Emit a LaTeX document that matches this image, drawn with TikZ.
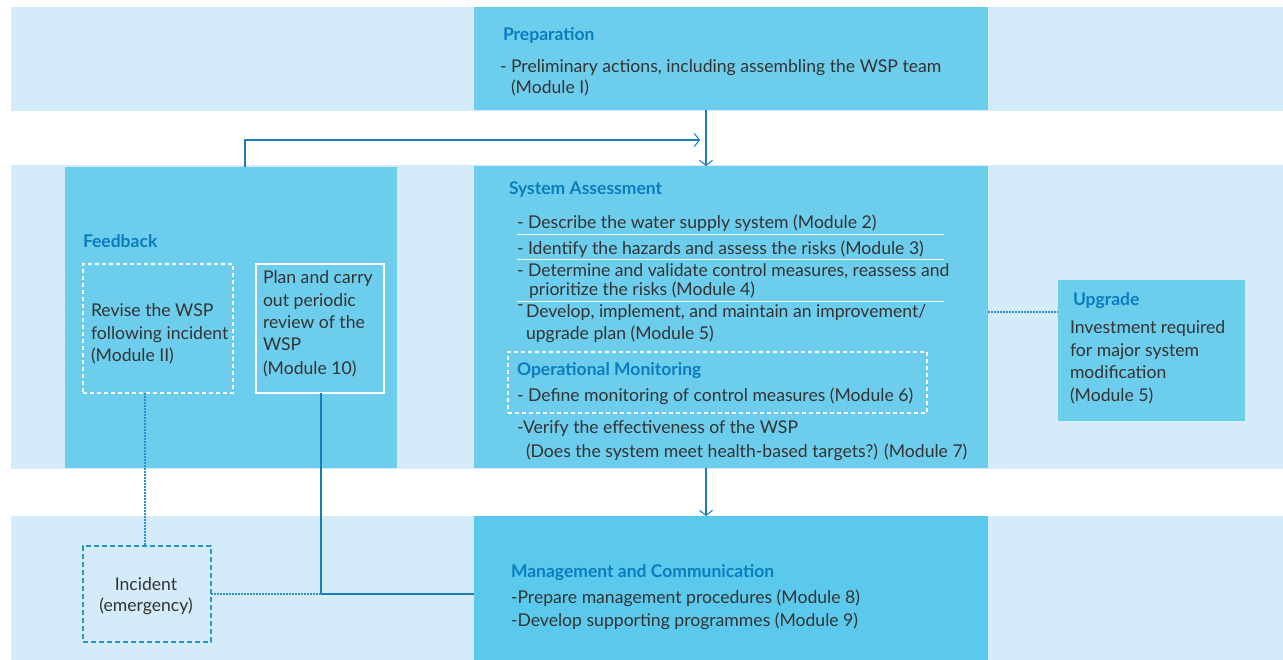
\documentclass[tikz,border=0pt]{standalone}
\usepackage{fontspec}
\setmainfont{Lato}
\usetikzlibrary{arrows.meta}
\definecolor{bandc}{HTML}{D4ECF9}
\definecolor{boxc}{HTML}{6DCDEC}
\definecolor{mgmtc}{HTML}{5BC9EC}
\definecolor{linec}{HTML}{1B7DB5}
\definecolor{dotc}{HTML}{2A93CC}
\definecolor{titlec}{HTML}{0A7DBF}
\definecolor{textc}{HTML}{333333}
\tikzset{
  area/.style={anchor=north west, inner sep=0, outer sep=0, draw=none},
  whitedash/.style={area, draw=white, line width=1.5pt, dash pattern=on 4pt off 3pt},
  txt/.style={anchor=base west, inner sep=0, outer sep=0, text=textc, font=\fontsize{17.6}{22}\selectfont},
  ttl/.style={anchor=base west, inner sep=0, outer sep=0, text=titlec, font=\fontsize{17.5}{22}\selectfont\bfseries},
  conn/.style={draw=linec, line width=1.2pt},
  dotconn/.style={draw=dotc, line width=1.2pt, dash pattern=on 1.5pt off 1.5pt},
  tip/.style={-{Straight Barb[length=5pt,width=13pt,line width=1pt]}},
  sep/.style={draw=white, line width=1pt}
}
\begin{document}
\begin{tikzpicture}[x=1pt,y=-1pt]
\useasboundingbox[fill=white] (0,0) rectangle (1283,660);
% bands
\node[area, fill=bandc, minimum width=1272, minimum height=104] (band1) at (11,7) {};
\node[area, fill=bandc, minimum width=1272, minimum height=304] (band2) at (11,165) {};
\node[area, fill=bandc, minimum width=1272, minimum height=144] (band3) at (11,516) {};
% main boxes
\node[area, fill=boxc, minimum width=514, minimum height=103] (prep) at (474,7) {};
\node[area, fill=boxc, minimum width=514, minimum height=302] (sa) at (474,166) {};
\node[area, fill=boxc, minimum width=332, minimum height=301] (fb) at (65,167) {};
\node[area, fill=boxc, minimum width=187, minimum height=141] (upg) at (1058,280) {};
\node[area, fill=mgmtc, minimum width=514, minimum height=144] (mgmt) at (474,516) {};
% inner boxes
\node[whitedash, minimum width=150, minimum height=129] (revise) at (83,264) {};
\node[area, draw=white, line width=2pt, minimum width=128, minimum height=129] (plan) at (256,264) {};
\node[whitedash, minimum width=419, minimum height=61] (opmon) at (508,352) {};
\node[area, draw=dotc, line width=1.5pt, dash pattern=on 5pt off 3pt, minimum width=128, minimum height=96] (incident) at (83,546) {};
% helper coordinates
\coordinate (ax) at (706,0);
\coordinate (fx) at (245,0);
\coordinate (fbarr) at (700,140);
\coordinate (rx) at (145,0);
\coordinate (px) at (321,0);
\coordinate (jy) at (0,594);
\coordinate (uy) at (0,312);
% connectors
\draw[conn, tip] (prep.south -| ax) -- (sa.north -| ax);
\draw[conn, tip] (sa.south -| ax) -- (mgmt.north -| ax);
\draw[conn, tip] (fb.north -| fx) |- (fbarr);
\draw[dotconn] (revise.south -| rx) -- (incident.north -| rx);
\draw[conn] (plan.south -| px) |- (mgmt.west |- jy);
\draw[dotconn] (incident.east |- jy) -- (px |- jy);
\draw[dotconn] (sa.east |- uy) -- (upg.west |- uy);
% separators in system assessment
\draw[sep] (517,235) -- (944,235);
\draw[sep] (517,260) -- (944,260);
\draw[sep] (517,302) -- (944,302);
% Preparation
\node[ttl] (t-prep) at (503,41) {Preparation};
\node[txt] (p1) at (500,73) {- Preliminary actions, including assembling the WSP team};
\node[txt] (p2) at (511,94) {(Module I)};
% System assessment
\node[ttl] (t-sa) at (509,195) {System Assessment};
\node[txt] (s1) at (517,229) {- Describe the water supply system (Module 2)};
\node[txt] (s2) at (517,255) {- Identify the hazards and assess the risks (Module 3)};
\node[txt] (s3) at (517,277) {- Determine and validate control measures, reassess and};
\node[txt] (s3b) at (529,296) {prioritize the risks (Module 4)};
\node[txt] (s4d) at (517,311) {-};
\node[txt] (s4) at (526,318) {Develop, implement, and maintain an improvement/};
\node[txt] (s4b) at (526,340) {upgrade plan (Module 5)};
\node[ttl] (t-om) at (517,376) {Operational Monitoring};
\node[txt] (s6) at (517,402) {- Define monitoring of control measures (Module 6)};
\node[txt] (s7) at (517,433) {-Verify the effectiveness of the WSP};
\node[txt] (s7b) at (526,457) {(Does the system meet health-based targets?) (Module 7)};
% Feedback
\node[ttl] (t-fb) at (83,248) {Feedback};
\node[txt] (r1) at (91,317) {Revise the WSP};
\node[txt] (r2) at (91,340) {following incident};
\node[txt] (r3) at (91,362) {(Module II)};
\node[txt] (q1) at (263,284) {Plan and carry};
\node[txt] (q2) at (263,307) {out periodic};
\node[txt] (q3) at (263,329) {review of the};
\node[txt] (q4) at (263,351) {WSP};
\node[txt] (q5) at (263,374) {(Module 10)};
% Upgrade
\node[ttl] (t-up) at (1073,306) {Upgrade};
\node[txt] (u1) at (1070,334) {Investment required};
\node[txt] (u2) at (1070,357) {for major system};
\node[txt] (u3) at (1070,379) {modification};
\node[txt] (u4) at (1070,402) {(Module 5)};
% Management
\node[ttl] (t-mg) at (511,577) {Management and Communication};
\node[txt] (m1) at (511,603) {-Prepare management procedures (Module 8)};
\node[txt] (m2) at (511,626) {-Develop supporting programmes (Module 9)};
% Incident
\node[txt, anchor=base] (i1) at (146,590) {Incident};
\node[txt, anchor=base] (i2) at (146,611) {(emergency)};
\end{tikzpicture}
\end{document}
